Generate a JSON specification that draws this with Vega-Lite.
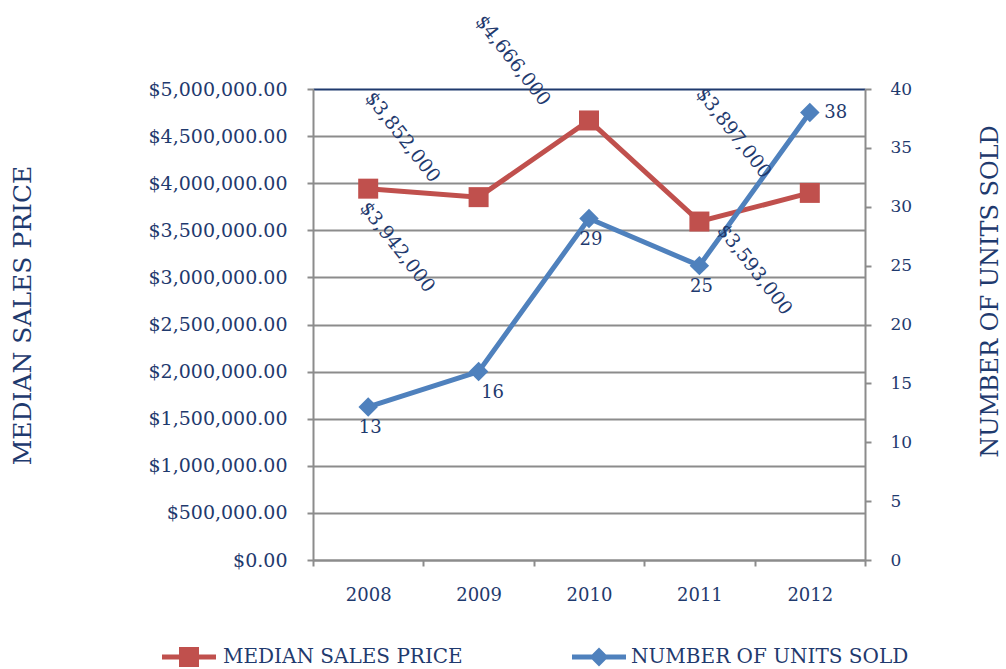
{
  "$schema": "https://vega.github.io/schema/vega-lite/v6.json",
  "width": 552,
  "height": 471,
  "autosize": {"type": "none"},
  "padding": {"left": 313, "top": 89, "right": 141, "bottom": 109},
  "background": "white",
  "config": {
    "view": {"stroke": null},
    "font": "DejaVu Serif",
    "axis": {
      "labelFont": "DejaVu Serif",
      "labelFontSize": 18,
      "labelColor": "#1F3A6E",
      "titleFont": "DejaVu Serif",
      "titleFontSize": 24,
      "titleFontWeight": "normal",
      "titleColor": "#1F3A6E",
      "domainColor": "#8C8C8C",
      "domainWidth": 2,
      "tickColor": "#8C8C8C",
      "tickWidth": 2,
      "tickSize": 6
    },
    "legend": {
      "orient": "none",
      "direction": "horizontal",
      "title": null,
      "symbolSize": 2916,
      "symbolStrokeWidth": 0,
      "symbolOpacity": 1,
      "labelFont": "DejaVu Serif",
      "labelFontSize": 20,
      "labelColor": "#1F3A6E",
      "labelLimit": 400
    }
  },
  "data": {
    "values": [
      {"year": "2008", "series": "Median Sales Price", "value": 3942000},
      {"year": "2009", "series": "Median Sales Price", "value": 3852000},
      {"year": "2010", "series": "Median Sales Price", "value": 4666000},
      {"year": "2011", "series": "Median Sales Price", "value": 3593000},
      {"year": "2012", "series": "Median Sales Price", "value": 3897000},
      {"year": "2008", "series": "Number of Units Sold", "value": 13},
      {"year": "2009", "series": "Number of Units Sold", "value": 16},
      {"year": "2010", "series": "Number of Units Sold", "value": 29},
      {"year": "2011", "series": "Number of Units Sold", "value": 25},
      {"year": "2012", "series": "Number of Units Sold", "value": 38}
    ]
  },
  "encoding": {
    "x": {
      "field": "year",
      "type": "ordinal",
      "scale": {"type": "band", "paddingInner": 0, "paddingOuter": 0},
      "axis": {"title": null, "labelAngle": 0, "tickBand": "extent", "labelPadding": 20, "grid": false}
    }
  },
  "layer": [
    {
      "transform": [{"filter": "datum.series === 'Median Sales Price'"}],
      "mark": {"type": "line", "color": "#C0504D", "strokeWidth": 5},
      "encoding": {
        "y": {
          "field": "value", "type": "quantitative",
          "scale": {"domain": [0, 5000000]},
          "axis": {
            "orient": "left",
            "values": [0, 500000, 1000000, 1500000, 2000000, 2500000, 3000000, 3500000, 4000000, 4500000, 5000000],
            "format": "$,.2f",
            "labelFontSize": 19,
            "labelPadding": 20,
            "grid": true,
            "gridColor": {"condition": {"test": "datum.value === 5000000", "value": "#1F3A6E"}, "value": "#8C8C8C"},
            "gridWidth": 2,
            "title": "MEDIAN SALES PRICE",
            "titleFontSize": 25,
            "titleAngle": -90,
            "titleX": -291,
            "titleY": 226,
            "titleAlign": "center",
            "titleBaseline": "middle"
          }
        }
      }
    },
    {
      "transform": [{"filter": "datum.series === 'Median Sales Price'"}],
      "mark": {"type": "point", "shape": "square", "size": 400, "filled": true, "opacity": 1},
      "encoding": {
        "y": {"field": "value", "type": "quantitative", "scale": {"domain": [0, 5000000]}, "axis": null},
        "color": {
          "field": "series", "type": "nominal",
          "scale": {"domain": ["Median Sales Price"], "range": ["#C0504D"]},
          "legend": {
            "legendX": -151,
            "legendY": 541,
            "labelOffset": 7,
            "symbolType": "M-1,-0.09H1V0.09H-1Z M-0.37,-0.37H0.37V0.37H-0.37Z",
            "labelExpr": "upper(datum.label)"
          }
        }
      }
    },
    {
      "transform": [{"filter": "datum.series === 'Number of Units Sold'"}],
      "mark": {"type": "line", "color": "#4F81BD", "strokeWidth": 5},
      "encoding": {
        "y": {
          "field": "value", "type": "quantitative",
          "scale": {"domain": [0, 40]},
          "axis": {
            "orient": "right",
            "values": [0, 5, 10, 15, 20, 25, 30, 35, 40],
            "labelFontSize": 17,
            "labelPadding": 19,
            "grid": false,
            "title": "NUMBER OF UNITS SOLD",
            "titleAngle": -90,
            "titleX": 125,
            "titleY": 202,
            "titleAlign": "center",
            "titleBaseline": "middle"
          }
        }
      }
    },
    {
      "transform": [{"filter": "datum.series === 'Number of Units Sold'"}],
      "mark": {"type": "point", "shape": "diamond", "size": 380, "filled": true, "opacity": 1},
      "encoding": {
        "y": {"field": "value", "type": "quantitative", "scale": {"domain": [0, 40]}, "axis": null},
        "color": {
          "field": "series", "type": "nominal",
          "scale": {"domain": ["Number of Units Sold"], "range": ["#4F81BD"]},
          "legend": {
            "legendX": 259,
            "legendY": 541,
            "labelOffset": 5,
            "symbolType": "M-1,-0.09H1V0.09H-1Z M-0.35,0L0,-0.35L0.35,0L0,0.35Z",
            "labelExpr": "upper(datum.label)"
          }
        }
      }
    },
    {
      "transform": [{"filter": "datum.series === 'Median Sales Price' && datum.year === '2008'"}],
      "mark": {"type": "text", "angle": 52, "dx": 64, "dy": 13, "fontSize": 19, "color": "#1F3A6E", "align": "center", "baseline": "middle"},
      "encoding": {
        "y": {"field": "value", "type": "quantitative", "scale": {"domain": [0, 5000000]}, "axis": null},
        "text": {"field": "value", "format": "$,.0f"}
      }
    },
    {
      "transform": [{"filter": "datum.series === 'Median Sales Price' && datum.year === '2011'"}],
      "mark": {"type": "text", "angle": 52, "dx": 72, "dy": -14, "fontSize": 19, "color": "#1F3A6E", "align": "center", "baseline": "middle"},
      "encoding": {
        "y": {"field": "value", "type": "quantitative", "scale": {"domain": [0, 5000000]}, "axis": null},
        "text": {"field": "value", "format": "$,.0f"}
      }
    },
    {
      "transform": [{"filter": "datum.series === 'Median Sales Price' && (datum.year === '2009' || datum.year === '2010' || datum.year === '2012')"}],
      "mark": {"type": "text", "angle": 52, "dx": -94, "dy": 23, "fontSize": 19, "color": "#1F3A6E", "align": "center", "baseline": "middle"},
      "encoding": {
        "y": {"field": "value", "type": "quantitative", "scale": {"domain": [0, 5000000]}, "axis": null},
        "text": {"field": "value", "format": "$,.0f"}
      }
    },
    {
      "transform": [{"filter": "datum.series === 'Number of Units Sold' && (datum.year === '2008' || datum.year === '2010' || datum.year === '2011')"}],
      "mark": {"type": "text", "dx": 2, "dy": 21, "fontSize": 18, "color": "#1F3A6E", "align": "center", "baseline": "middle"},
      "encoding": {
        "y": {"field": "value", "type": "quantitative", "scale": {"domain": [0, 40]}, "axis": null},
        "text": {"field": "value"}
      }
    },
    {
      "transform": [{"filter": "datum.series === 'Number of Units Sold' && datum.year === '2009'"}],
      "mark": {"type": "text", "dx": 14, "dy": 21, "fontSize": 18, "color": "#1F3A6E", "align": "center", "baseline": "middle"},
      "encoding": {
        "y": {"field": "value", "type": "quantitative", "scale": {"domain": [0, 40]}, "axis": null},
        "text": {"field": "value"}
      }
    },
    {
      "transform": [{"filter": "datum.series === 'Number of Units Sold' && datum.year === '2012'"}],
      "mark": {"type": "text", "dx": 26, "dy": 0, "fontSize": 18, "color": "#1F3A6E", "align": "center", "baseline": "middle"},
      "encoding": {
        "y": {"field": "value", "type": "quantitative", "scale": {"domain": [0, 40]}, "axis": null},
        "text": {"field": "value"}
      }
    }
  ],
  "resolve": {"scale": {"y": "independent", "color": "independent"}, "axis": {"y": "independent"}, "legend": {"color": "independent"}}
}
